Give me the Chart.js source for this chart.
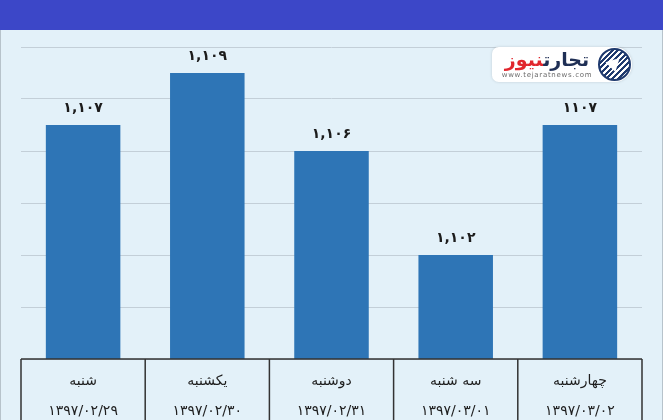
<!DOCTYPE html>
<html lang="fa">
<head>
<meta charset="utf-8">
<script src="https://cdn.jsdelivr.net/npm/chart.js@4.4.0/dist/chart.umd.min.js"></script>
<style>
	body { margin: 0; width: 663px; height: 420px; overflow: hidden; background: #e3f1f9; font-family: "DejaVu Sans", sans-serif; }
	#header { position: absolute; left: 0; top: 0; width: 663px; height: 30px; background: #3c47c8; }
	#panel { position: absolute; left: 0; top: 30px; width: 661px; height: 390px; background: #e3f1f9; border-left: 1px solid #b7c3cb; border-right: 1px solid #b7c3cb; }
	#wrap { position: absolute; left: 0; top: 30px; width: 663px; height: 390px; }
	#logo { position: absolute; left: 492px; top: 47px; width: 140px; height: 35px; background: #fff; border-radius: 7px 18px 18px 7px; box-shadow: 0 0 3px rgba(0,0,0,0.15); }
	#logo .brand { position: absolute; left: 6px; top: 1px; width: 98px; direction: rtl; text-align: center; font-weight: bold; font-size: 19px; line-height: 23px; white-space: nowrap; }
	#logo .navy { color: #1f2f55; }
	#logo .red { color: #e1262d; }
	#logo .url { position: absolute; left: 6px; top: 24px; width: 98px; text-align: center; font-size: 7px; color: #6b6b6b; letter-spacing: 0.7px; }
	#logo .icon { position: absolute; left: 106px; top: 1px; width: 29px; height: 29px; border-radius: 50%; border: 2px solid #1f3a6e;
		background: repeating-linear-gradient(135deg, #1f3a6e 0 2px, #fff 2px 4px); }
	#logo .icon::after { content: ""; position: absolute; left: 8px; top: 6px; width: 0; height: 0;
		border-left: 7px solid transparent; border-right: 7px solid transparent; border-bottom: 13px solid #fff; transform: rotate(45deg); }
</style>
</head>
<body>
<div id="header"></div>
<div id="panel"></div>
<div id="wrap"><canvas id="price-chart" width="663" height="390"></canvas></div>
<div id="logo">
	<div class="brand"><span class="navy">تجارت</span><span class="red">نیوز</span></div>
	<div class="url">www.tejaratnews.com</div>
	<div class="icon"></div>
</div>
<script>
const days = ["شنبه", "یکشنبه", "دوشنبه", "سه شنبه", "چهارشنبه"];
const dates = ["۱۳۹۷/۰۲/۲۹", "۱۳۹۷/۰۲/۳۰", "۱۳۹۷/۰۲/۳۱", "۱۳۹۷/۰۳/۰۱", "۱۳۹۷/۰۳/۰۲"];
const values = [1.107, 1.109, 1.106, 1.102, 1.107];
const valueLabels = ["۱,۱۰۷", "۱,۱۰۹", "۱,۱۰۶", "۱,۱۰۲", "۱۱۰۷"];
const yMin = 1.098;
const yMax = 1.110;
const yStep = 0.002;

// numbers above each bar
const barLabels = {
	id: "barLabels",
	afterDatasetsDraw(chart) {
		const ctx = chart.ctx;
		ctx.save();
		ctx.font = "bold 14px 'DejaVu Sans'";
		ctx.fillStyle = "#1c1c1c";
		ctx.textAlign = "center";
		ctx.textBaseline = "middle";
		chart.getDatasetMeta(0).data.forEach((bar, i) => {
			ctx.fillText(valueLabels[i], bar.x, bar.y - 17);
		});
		ctx.restore();
	}
};

// table under the bars
const tableLines = {
	id: "tableLines",
	afterDraw(chart) {
		const ctx = chart.ctx;
		const x = chart.scales.x;
		const area = chart.chartArea;
		const step = x.getPixelForValue(1) - x.getPixelForValue(0);
		ctx.save();
		ctx.strokeStyle = "#333";
		ctx.lineWidth = 1.5;
		ctx.beginPath();
		ctx.moveTo(area.left, area.bottom);
		ctx.lineTo(area.right, area.bottom);
		for (let i = 0; i <= days.length; i++) {
			const px = x.getPixelForValue(0) - step / 2 + i * step;
			ctx.moveTo(px, area.bottom);
			ctx.lineTo(px, chart.height);
		}
		ctx.stroke();
		ctx.restore();
	}
};

new Chart(document.getElementById("price-chart"), {
	type: "bar",
	data: {
		labels: days,
		datasets: [
			{ data: values, backgroundColor: "#2e75b6", barPercentage: 0.6, categoryPercentage: 1 }
		]
	},
	options: {
		responsive: false,
		animation: false,
		layout: { padding: { left: 21, right: 21, top: 17, bottom: 0 } },
		scales: {
			x: {
				grid: { display: false, drawTicks: false },
				border: { display: false },
				ticks: {
					callback: (v, i) => [days[i], dates[i]],
					color: "#1e1e1e",
					font: { family: "DejaVu Sans", size: 14, lineHeight: "30px" },
					padding: 7,
					maxRotation: 0,
					autoSkip: false
				},
				afterFit: (axis) => { axis.height = 61; }
			},
			y: {
				min: yMin,
				max: yMax,
				ticks: { display: false, stepSize: yStep },
				grid: { color: "#c3cfd8", drawTicks: false },
				border: { display: false }
			}
		},
		plugins: {
			legend: { display: false },
			tooltip: { enabled: false }
		}
	},
	plugins: [barLabels, tableLines]
});
</script>
</body>
</html>
